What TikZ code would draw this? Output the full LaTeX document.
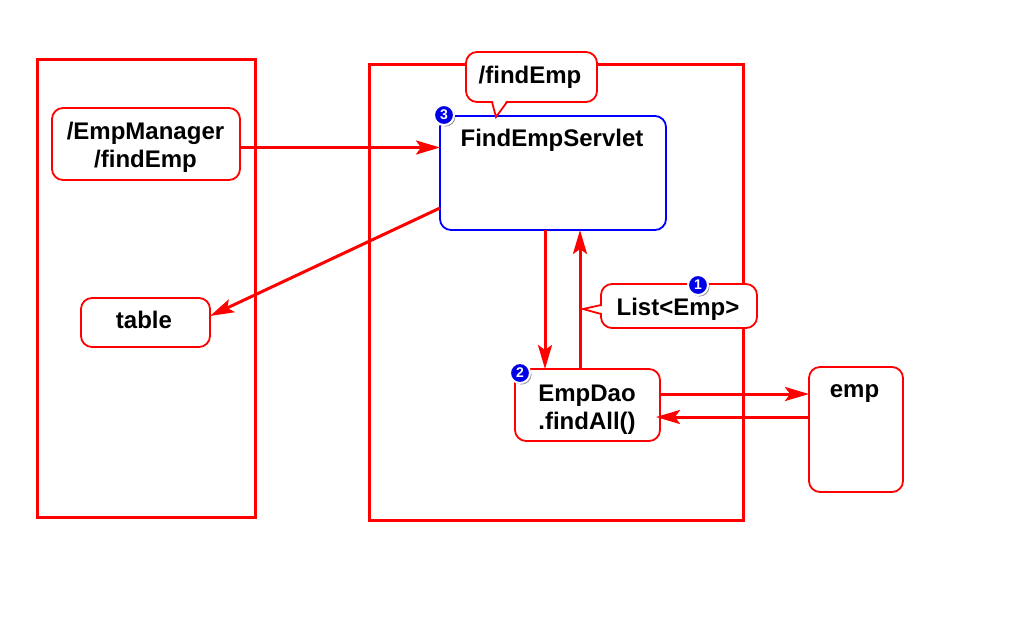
\documentclass[tikz,border=0pt]{standalone}
\usepackage{fontspec}
\setmainfont{Liberation Sans}
\usetikzlibrary{arrows.meta,shadows,calc}
\definecolor{rd}{RGB}{255,0,0}
\definecolor{bl}{RGB}{0,0,255}
\definecolor{bdg}{RGB}{0,0,230}
\tikzset{
  x=1pt,y=-1pt,
  frame/.style={draw=rd,line width=3pt,fill=white,inner sep=0pt,outer sep=0pt},
  rbox/.style={draw=rd,line width=1.8pt,fill=white,rounded corners=11pt,inner sep=0pt,outer sep=0pt},
  bbox/.style={rbox,draw=bl},
  txt/.style={inner sep=0pt,align=center,font=\fontsize{24}{28}\selectfont\bfseries},
  conn/.style={draw=rd,line width=3pt,-{Stealth[length=24pt,width=14pt,inset=5pt]}},
  badge/.style={circle,draw=white,line width=2pt,fill=bdg,minimum size=20pt,inner sep=0pt,text=white,font=\fontsize{14}{14}\selectfont\bfseries,drop shadow={shadow xshift=1.5pt,shadow yshift=-1.5pt,opacity=.6,fill=black!70}},
  tailline/.style={draw=rd,line width=1.8pt,line join=miter}
}
\begin{document}
\begin{tikzpicture}
\useasboundingbox (0,0) rectangle (1024,622);
\fill[white] (0,0) rectangle (1024,622);
% frames
\node[frame,minimum width=218pt,minimum height=458pt,anchor=north west] (left) at (37,59) {};
\node[frame,minimum width=374pt,minimum height=456pt,anchor=north west] (right) at (369,64) {};
% boxes
\node[rbox,minimum width=188pt,minimum height=72pt,anchor=north west] (mgr) at (52,108) {};
\node[txt] (mgrt) at (145.5,147) {/EmpManager\\/findEmp};
\node[rbox,minimum width=129pt,minimum height=49pt,anchor=north west] (tbl) at (81,298) {};
\node[txt] (tblt) at (144,320) {table};
\node[bbox,minimum width=226pt,minimum height=114pt,anchor=north west] (srv) at (440,116) {};
\node[txt] (srvt) at (552,140) {FindEmpServlet};
\node[rbox,minimum width=145pt,minimum height=72pt,anchor=north west] (dao) at (515,369) {};
\node[txt] (daot) at (587,410) {EmpDao\\.findAll()};
\node[rbox,minimum width=94pt,minimum height=125pt,anchor=north west] (emp) at (809,367) {};
\node[txt] (empt) at (854.5,394) {emp};
% connectors
\coordinate (a1) at (mgr.east |- 0,147.5);
\coordinate (a2) at (srv.west |- 0,147.5);
\draw[conn] (a1) -- (a2);
\coordinate (b1) at (srv.west |- 0,208);
\coordinate (b2) at (tbl.east |- 0,316);
\draw[conn] (b1) -- (b2);
\coordinate (c1) at (545,0 |- srv.south);
\coordinate (c2) at (545,0 |- dao.north);
\draw[conn] (c1) -- (c2);
\coordinate (d1) at (580,0 |- dao.north);
\coordinate (d2) at (580,0 |- srv.south);
\draw[conn] (d1) -- (d2);
\coordinate (e1) at (dao.east |- 0,394);
\coordinate (e2) at (emp.west |- 0,394);
\draw[conn] (e1) -- (e2);
\coordinate (f1) at (emp.west |- 0,417);
\coordinate (f2) at (dao.east |- 0,417);
\draw[conn,shorten >=-4pt] (f1) -- (f2);
% callouts
\node[rbox,minimum width=131pt,minimum height=50pt,anchor=north west] (call1) at (466,52) {};
\fill[white] (493,101) -- (496,116) -- (506,101) -- cycle;
\draw[tailline] (492,102) -- (496,117) -- (507,102);
\node[txt] (c1t) at (530,77) {/findEmp};
\node[rbox,minimum width=156pt,minimum height=44pt,anchor=north west] (call2) at (601,284) {};
\fill[white] (602,306) -- (584,309) -- (602,313) -- cycle;
\draw[tailline] (601,305) -- (583,309) -- (601,314);
\node[txt] (c2t) at (678,309) {List<Emp>};
% badges
\node[badge] (n1) at (698,285) {1};
\node[badge] (n2) at (520,373) {2};
\node[badge] (n3) at (444,115) {3};
\end{tikzpicture}
\end{document}
